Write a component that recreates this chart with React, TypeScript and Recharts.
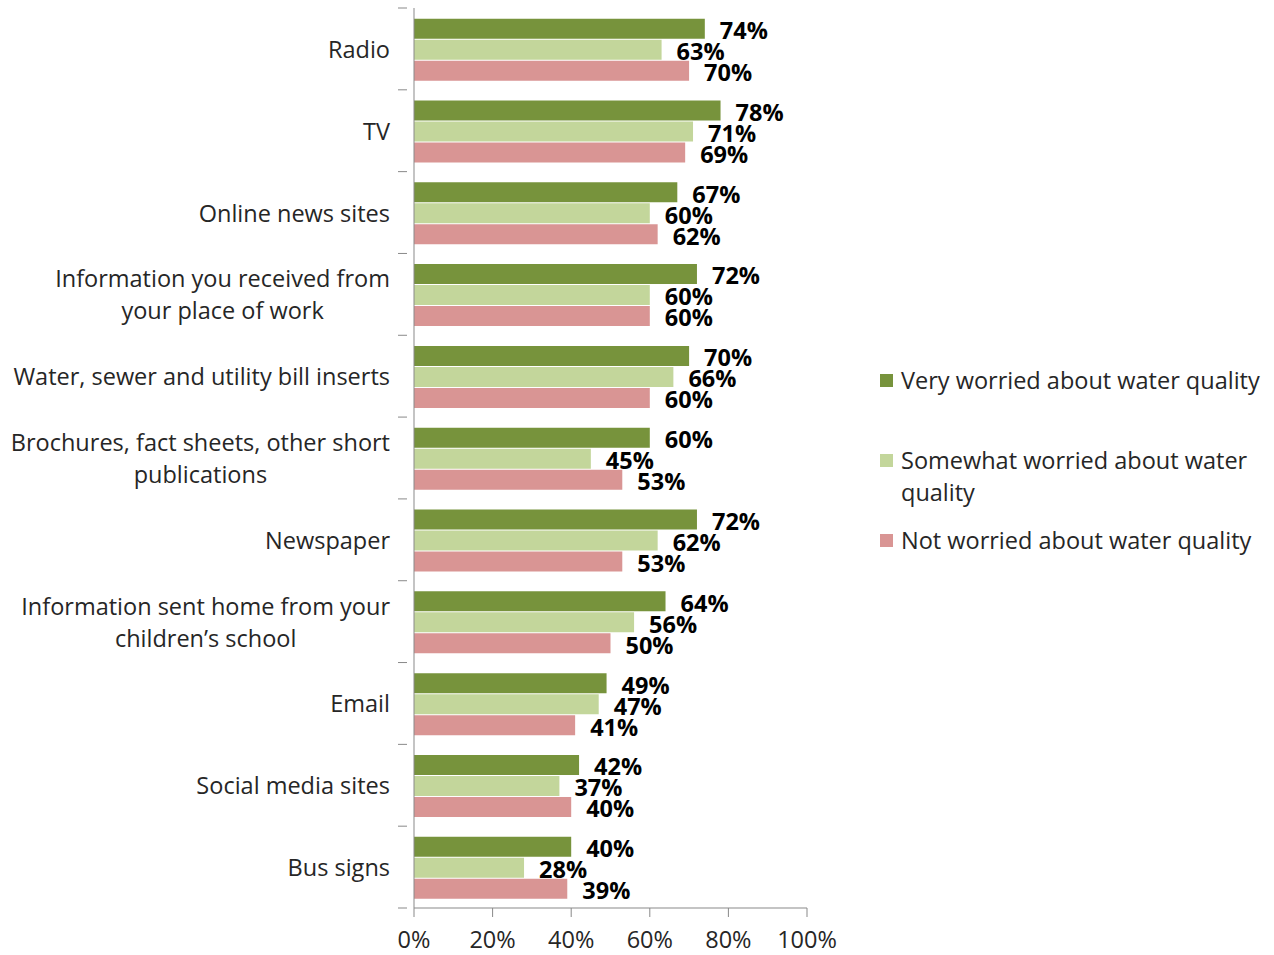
import React from 'react';
import { BarChart, Bar, XAxis, YAxis, Legend, LabelList } from 'recharts';

const categories = [
  'Radio',
  'TV',
  'Online news sites',
  'Information you received from\nyour place of work',
  'Water, sewer and utility bill inserts',
  'Brochures, fact sheets, other short\npublications',
  'Newspaper',
  'Information sent home from your\nchildren\u2019s school',
  'Email',
  'Social media sites',
  'Bus signs',
];
const veryWorried = [74, 78, 67, 72, 70, 60, 72, 64, 49, 42, 40];
const somewhatWorried = [63, 71, 60, 60, 66, 45, 62, 56, 47, 37, 28];
const notWorried = [70, 69, 62, 60, 60, 53, 53, 50, 41, 40, 39];
const xTicks = [0, 20, 40, 60, 80, 100];

const seriesNames = [
  'Very worried about water quality',
  'Somewhat worried about water\nquality',
  'Not worried about water quality',
];
const colors = ['#77933C', '#C3D69B', '#D99594'];

const data = categories.map((name, i) => ({
  name,
  very: veryWorried[i],
  somewhat: somewhatWorried[i],
  not: notWorried[i],
}));

const FONT = '"Open Sans", Lato, sans-serif';
const FS = 23.5;
const PLOT_TOP = 8;
const PLOT_HEIGHT = 900;
const HALF_BAND = PLOT_HEIGHT / categories.length / 2;

let ctx: CanvasRenderingContext2D | null = null;
const measure = (s: string) => {
  if (!ctx) ctx = document.createElement('canvas').getContext('2d');
  if (!ctx) return s.length * 10;
  ctx.font = `${FS}px ${FONT}`;
  return ctx.measureText(s).width;
};

const CategoryTick = (props: any) => {
  const { x, y, payload, index } = props;
  const lines = String(payload.value).split('\n');
  const maxW = Math.max(...lines.map(measure));
  const right = x - 16;
  const cx = lines.length > 1 ? right - maxW / 2 : right;
  const lh = 32;
  const startY = y - ((lines.length - 1) * lh) / 2;
  const axisX = x + 1;
  return (
    <g>
      <line x1={axisX - 9} x2={axisX} y1={y - HALF_BAND} y2={y - HALF_BAND} stroke="#898989" />
      {index === categories.length - 1 && (
        <line x1={axisX - 9} x2={axisX} y1={y + HALF_BAND} y2={y + HALF_BAND} stroke="#898989" />
      )}
      <text
        x={cx}
        y={startY}
        textAnchor={lines.length > 1 ? 'middle' : 'end'}
        dominantBaseline="central"
        fontSize={FS}
        fontFamily={FONT}
        fill="#262626"
      >
        {lines.map((l, i) => (
          <tspan key={i} x={cx} dy={i === 0 ? 0 : lh}>
            {l}
          </tspan>
        ))}
      </text>
    </g>
  );
};

const LegendContent = () => (
  <div style={{ fontFamily: FONT, fontSize: FS, color: '#262626', width: 394 }}>
    {seriesNames.map((n, i) => (
      <div
        key={n}
        style={{ display: 'flex', alignItems: 'flex-start', height: 80, lineHeight: '32px' }}
      >
        <span
          style={{
            display: 'inline-block',
            width: 13,
            height: 13,
            background: colors[i],
            marginTop: 10,
            marginRight: 8,
            flexShrink: 0,
          }}
        />
        <span style={{ whiteSpace: 'pre' }}>{n}</span>
      </div>
    ))}
  </div>
);

const labelStyle = { fontSize: FS, fontWeight: 700, fontFamily: FONT, fill: '#000' };
const pct = (v: any) => `${v}%`;

export default function App() {
  return (
    <div style={{ position: 'absolute', left: 0, top: 0, background: '#fff' }}>
      <BarChart
        width={1274}
        height={955}
        data={data}
        layout="vertical"
        margin={{ top: PLOT_TOP, right: 467, bottom: 0, left: 0 }}
        barCategoryGap="13%"
        barGap={1}
      >
        <XAxis
          type="number"
          domain={[0, 100]}
          ticks={xTicks}
          tickFormatter={pct}
          height={47}
          stroke="#898989"
          tickSize={9}
          tickMargin={14}
          tick={{ fontSize: FS, fontFamily: FONT, fill: '#262626' }}
          interval={0}
        />
        <YAxis
          type="category"
          dataKey="name"
          width={414}
          stroke="#898989"
          tickLine={false}
          tick={<CategoryTick />}
          interval={0}
        />
        <Legend
          layout="vertical"
          align="center"
          verticalAlign="middle"
          wrapperStyle={{ left: 880, top: 364, width: 394 }}
          content={<LegendContent />}
        />
        <Bar dataKey="very" fill={colors[0]} isAnimationActive={false}>
          <LabelList dataKey="very" position="right" offset={15} dy={2} formatter={pct} style={labelStyle} />
        </Bar>
        <Bar dataKey="somewhat" fill={colors[1]} isAnimationActive={false}>
          <LabelList dataKey="somewhat" position="right" offset={15} dy={2} formatter={pct} style={labelStyle} />
        </Bar>
        <Bar dataKey="not" fill={colors[2]} isAnimationActive={false}>
          <LabelList dataKey="not" position="right" offset={15} dy={2} formatter={pct} style={labelStyle} />
        </Bar>
      </BarChart>
    </div>
  );
}
